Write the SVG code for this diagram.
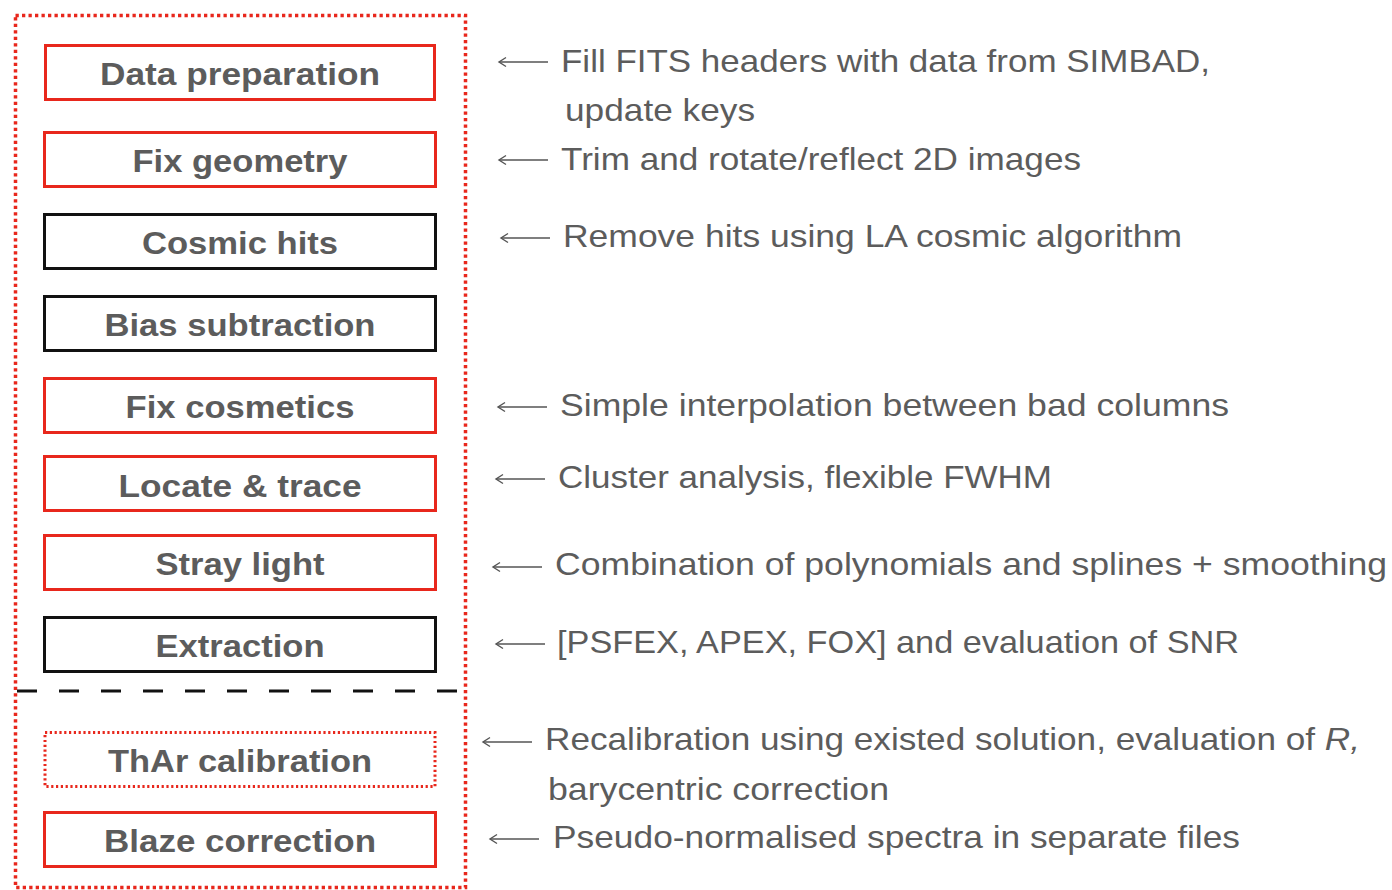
<svg xmlns="http://www.w3.org/2000/svg" width="1392" height="890" viewBox="0 0 1392 890">
<defs>
<marker id="ah" markerWidth="12" markerHeight="12" refX="7.5" refY="6" orient="auto" markerUnits="userSpaceOnUse">
<path d="M0.5,1.5 L7.5,6 L0.5,10.5" fill="none" stroke="#555" stroke-width="1.4"/>
</marker>
<style>
.box{fill:#fff;stroke-width:3}
.red{stroke:#e8271c}
.blk{stroke:#111}
.lbl{font-family:"Liberation Sans",Arial,sans-serif;font-weight:bold;font-size:32px;fill:#5c5c5c;text-anchor:middle}
.note{font-family:"Liberation Sans",Arial,sans-serif;font-size:32px;fill:#5c5c5c}
.arr{stroke:#555;stroke-width:1.5;fill:none;marker-end:url(#ah)}
</style>
</defs>
<rect width="1392" height="890" fill="#fff"/>
<rect id="frame" x="15.5" y="15.5" width="450" height="872" fill="none" stroke="#e8271c" stroke-width="3.5" stroke-dasharray="3.3 3.2"/>
<line id="divider" x1="17" y1="691" x2="462" y2="691" stroke="#111" stroke-width="3" stroke-dasharray="20 22"/>

<g id="n1"><rect class="box red" x="45.5" y="45.5" width="389" height="54"/><text class="lbl" x="240" y="85" textLength="280" lengthAdjust="spacingAndGlyphs">Data preparation</text></g>
<g id="n2"><rect class="box red" x="44.5" y="132.5" width="391" height="54"/><text class="lbl" x="240" y="172" textLength="215" lengthAdjust="spacingAndGlyphs">Fix geometry</text></g>
<g id="n3"><rect class="box blk" x="44.5" y="214.5" width="391" height="54"/><text class="lbl" x="240" y="254" textLength="196" lengthAdjust="spacingAndGlyphs">Cosmic hits</text></g>
<g id="n4"><rect class="box blk" x="44.5" y="296.5" width="391" height="54"/><text class="lbl" x="240" y="336" textLength="271" lengthAdjust="spacingAndGlyphs">Bias subtraction</text></g>
<g id="n5"><rect class="box red" x="44.5" y="378.5" width="391" height="54"/><text class="lbl" x="240" y="418" textLength="229" lengthAdjust="spacingAndGlyphs">Fix cosmetics</text></g>
<g id="n6"><rect class="box red" x="44.5" y="456.5" width="391" height="54"/><text class="lbl" x="240" y="497" textLength="243" lengthAdjust="spacingAndGlyphs">Locate &amp; trace</text></g>
<g id="n7"><rect class="box red" x="44.5" y="535.5" width="391" height="54"/><text class="lbl" x="240" y="575" textLength="169" lengthAdjust="spacingAndGlyphs">Stray light</text></g>
<g id="n8"><rect class="box blk" x="44.5" y="617.5" width="391" height="54"/><text class="lbl" x="240" y="657" textLength="169" lengthAdjust="spacingAndGlyphs">Extraction</text></g>
<g id="n9"><rect class="box red" x="45" y="732.5" width="390" height="54" stroke-width="2" stroke-dasharray="2.2 2.6"/><text class="lbl" x="240" y="772" textLength="264" lengthAdjust="spacingAndGlyphs">ThAr calibration</text></g>
<g id="n10"><rect class="box red" x="44.5" y="812.5" width="391" height="54"/><text class="lbl" x="240" y="852" textLength="272" lengthAdjust="spacingAndGlyphs">Blaze correction</text></g>

<g id="connectors">
<line class="arr" x1="548" y1="62" x2="499" y2="62"/>
<line class="arr" x1="548" y1="160" x2="499" y2="160"/>
<line class="arr" x1="550" y1="238" x2="501" y2="238"/>
<line class="arr" x1="547" y1="407" x2="498" y2="407"/>
<line class="arr" x1="545" y1="479" x2="496" y2="479"/>
<line class="arr" x1="542" y1="567" x2="493" y2="567"/>
<line class="arr" x1="545" y1="644" x2="496" y2="644"/>
<line class="arr" x1="532" y1="742" x2="483" y2="742"/>
<line class="arr" x1="539" y1="839" x2="490" y2="839"/>
</g>

<g id="notes">
<text class="note" x="561" y="72" textLength="649" lengthAdjust="spacingAndGlyphs">Fill FITS headers with data from SIMBAD,</text>
<text class="note" x="565" y="121" textLength="190" lengthAdjust="spacingAndGlyphs">update keys</text>
<text class="note" x="561" y="170" textLength="520" lengthAdjust="spacingAndGlyphs">Trim and rotate/reflect 2D images</text>
<text class="note" x="563" y="247" textLength="619" lengthAdjust="spacingAndGlyphs">Remove hits using LA cosmic algorithm</text>
<text class="note" x="560" y="416" textLength="669" lengthAdjust="spacingAndGlyphs">Simple interpolation between bad columns</text>
<text class="note" x="558" y="488" textLength="494" lengthAdjust="spacingAndGlyphs">Cluster analysis, flexible FWHM</text>
<text class="note" x="555" y="575" textLength="832" lengthAdjust="spacingAndGlyphs">Combination of polynomials and splines + smoothing</text>
<text class="note" x="557" y="653" textLength="682" lengthAdjust="spacingAndGlyphs">[PSFEX, APEX, FOX] and evaluation of SNR</text>
<text class="note" x="545" y="750" textLength="815" lengthAdjust="spacingAndGlyphs">Recalibration using existed solution, evaluation of <tspan font-style="italic">R,</tspan></text>
<text class="note" x="548" y="800" textLength="341" lengthAdjust="spacingAndGlyphs">barycentric correction</text>
<text class="note" x="553" y="848" textLength="687" lengthAdjust="spacingAndGlyphs">Pseudo-normalised spectra in separate files</text>
</g>
</svg>
